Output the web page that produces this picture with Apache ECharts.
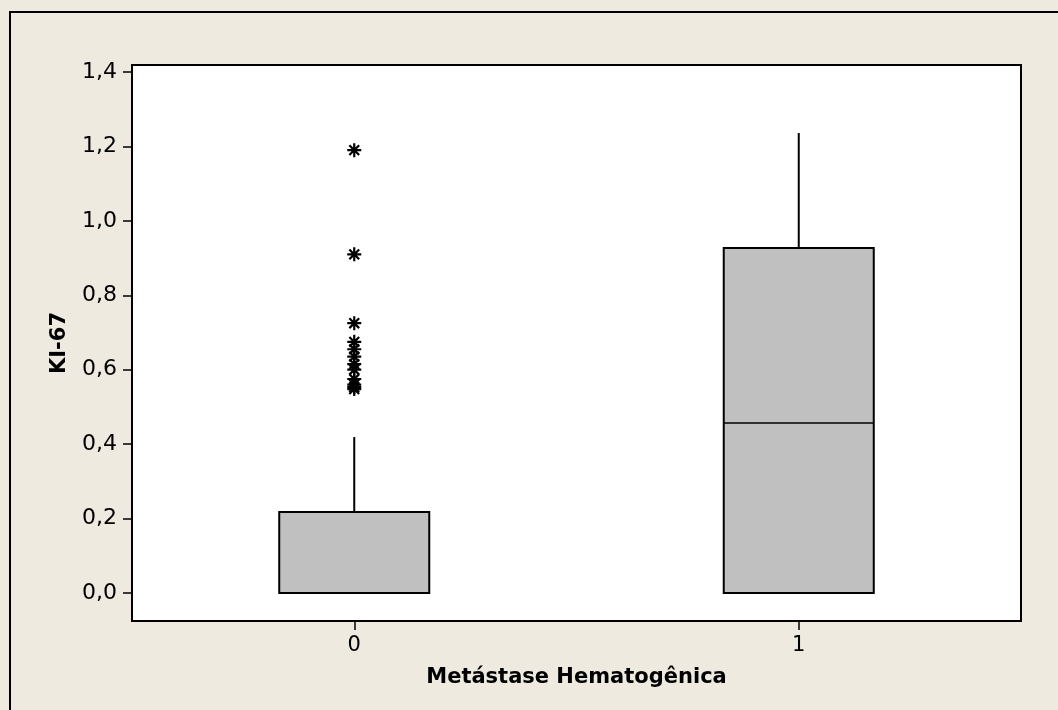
<!DOCTYPE html>
<html>
<head>
<meta charset="utf-8">
<script src="https://cdn.jsdelivr.net/npm/echarts@6/dist/echarts.min.js"></script>
<style>
html,body{margin:0;padding:0;background:#EEEAE0;}
#c{width:1058px;height:710px;}
</style>
</head>
<body>
<div id="c"></div>
<script>
// Data
var categories = ['0', '1'];
var boxMin    = [0.0, 0.0];
var boxQ1     = [0.0, 0.0];
var boxMedian = [0.0, 0.457];
var boxQ3     = [0.218, 0.927];
var boxMax    = [0.419, 1.236];
var outlierCategory = ['0','0','0','0','0','0','0','0','0','0','0','0'];
var outlierValues = [1.19, 0.91, 0.725, 0.675, 0.655, 0.635, 0.615, 0.60, 0.575, 0.56, 0.553, 0.548];
var yTicks = [0, 0.2, 0.4, 0.6, 0.8, 1.0, 1.2, 1.4];

var boxData = categories.map(function (c, i) {
  return [i, boxMin[i], boxQ1[i], boxMedian[i], boxQ3[i], boxMax[i]];
});
var outlierData = outlierValues.map(function (v, i) {
  return [outlierCategory[i], v];
});

var chart = echarts.init(document.getElementById('c'), null, {renderer: 'canvas'});
var FONT = 'DejaVu Sans';
var option = {
  backgroundColor: '#EEEAE0',
  animation: false,
  graphic: [{
    type: 'rect',
    shape: {x: 10, y: 12, width: 1200, height: 900},
    style: {fill: 'none', stroke: '#000', lineWidth: 2},
    silent: true,
    z: -1
  }],
  grid: {
    left: 132, right: 37, top: 65, bottom: 89,
    show: true, backgroundColor: '#ffffff', borderColor: '#000', borderWidth: 2
  },
  xAxis: {
    type: 'category',
    data: categories,
    boundaryGap: true,
    name: 'Metástase Hematogênica',
    nameLocation: 'middle',
    nameGap: 46,
    nameTextStyle: {fontFamily: FONT, fontWeight: 'bold', fontSize: 21, color: '#000'},
    axisLine: {show: true, onZero: false, lineStyle: {color: '#000', width: 2}},
    axisTick: {show: true, alignWithLabel: true, length: 9, lineStyle: {color: '#000', width: 1.5}},
    axisLabel: {fontFamily: FONT, fontSize: 21, color: '#000', margin: 14},
    splitLine: {show: false}
  },
  yAxis: {
    type: 'value',
    min: -0.0752,
    max: 1.4188,
    name: 'KI-67',
    nameLocation: 'middle',
    nameGap: 62,
    nameRotate: 90,
    nameTextStyle: {fontFamily: FONT, fontWeight: 'bold', fontSize: 21, color: '#000'},
    axisLine: {show: true, lineStyle: {color: '#000', width: 2}},
    axisTick: {show: true, length: 9, customValues: yTicks, lineStyle: {color: '#000', width: 1.5}},
    axisLabel: {
      fontFamily: FONT, fontSize: 22, color: '#000', margin: 15,
      customValues: yTicks,
      formatter: function (v) { return v.toFixed(1).replace('.', ','); }
    },
    splitLine: {show: false}
  },
  series: [{
    type: 'custom',
    data: boxData,
    renderItem: function (params, api) {
      var idx = api.value(0);
      var pMin = api.coord([idx, api.value(1)]);
      var pQ1 = api.coord([idx, api.value(2)]);
      var pMed = api.coord([idx, api.value(3)]);
      var pQ3 = api.coord([idx, api.value(4)]);
      var pMax = api.coord([idx, api.value(5)]);
      var w = api.size([1, 0])[0] * 0.3375;
      var x0 = pQ1[0] - w / 2;
      var st = {stroke: '#000', lineWidth: 2};
      return {
        type: 'group',
        children: [
          {type: 'line', shape: {x1: pQ3[0], y1: pQ3[1], x2: pMax[0], y2: pMax[1]}, style: st},
          {type: 'line', shape: {x1: pQ1[0], y1: pQ1[1], x2: pMin[0], y2: pMin[1]}, style: st},
          {type: 'rect', shape: {x: x0, y: pQ3[1], width: w, height: pQ1[1] - pQ3[1]},
           style: {fill: '#C0C0C0', stroke: '#000', lineWidth: 2}},
          {type: 'line', shape: {x1: x0, y1: pMed[1], x2: x0 + w, y2: pMed[1]}, style: {stroke: '#000', lineWidth: 1.5}}
        ]
      };
    },
    z: 2
  }, {
    type: 'scatter',
    data: outlierData,
    symbol: 'path://M0,5L10,5M5,0L5,10M1.5,1.5L8.5,8.5M8.5,1.5L1.5,8.5',
    symbolSize: 14,
    itemStyle: {color: 'transparent', borderColor: '#000', borderWidth: 2.2, opacity: 1},
    z: 3
  }]
};
chart.setOption(option);
</script>
</body>
</html>
